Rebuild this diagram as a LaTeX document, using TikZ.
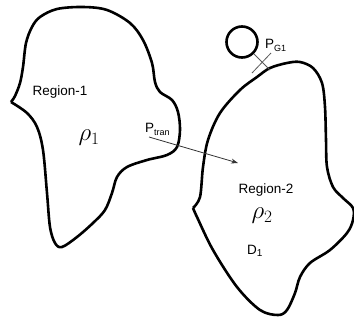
\documentclass[tikz,border=0pt]{standalone}
\usepackage{fontspec}
\setmainfont{Liberation Sans}
\usetikzlibrary{arrows.meta}
\begin{document}
\begin{tikzpicture}[x=1pt,y=-1pt,
  outline/.style={line width=2.6pt, line join=round},
  thin/.style={draw=black!65, line width=0.8pt},
  lbl/.style={inner sep=0pt, font=\fontsize{13.5}{15}\selectfont},
  rholbl/.style={inner sep=0pt, font=\fontsize{25}{28}\selectfont}]
\useasboundingbox (0,0) rectangle (354,322);
% Region 1
\draw[outline] plot[smooth, tension=0.55] coordinates {
 (11,102) (15,96) (20,83) (23,67) (26,43) (32,27) (40,17) (57,9) (83,7)
 (107,10) (130,23) (143,40) (152,63) (155,82) (160,92) (172,100) (178,112)
 (180,130) (177,147) (167,155) (147,160) (127,167) (117,177) (112,193)
 (105,210) (93,223) (77,237) (62,247) (55,243) (50,227) (47,193) (43,150)
 (37,127) (27,113) (11,102)};
% Region 2
\draw[outline] plot[smooth, tension=0.55] coordinates {
 (193,208) (200,197) (203,167) (208,140) (220,113) (240,90) (257,77)
 (270,68) (287,63) (300,62) (313,68) (322,83) (325,107) (326,140) (327,167)
 (333,187) (343,198) (353,208) (353,220) (347,233) (330,250) (310,263)
 (300,277) (295,293) (287,310) (278,315) (260,310) (237,287) (213,250)
 (197,217) (193,208)};
% generator
\node[circle, draw, line width=2.6pt, minimum size=31pt, inner sep=0pt] (gen) at (242,42) {};
\coordinate (gtap) at (270,70);
\draw[thin] (gen) -- (gtap);
\coordinate (xa) at (252,73);
\coordinate (xb) at (271,53);
\draw[thin] (xa) -- (xb);
\node[lbl, anchor=base west] (pg) at (265,48) {P\raisebox{-0.28em}{\fontsize{9}{9}\selectfont G1}};
% transfer arrow
\coordinate (ta) at (149,137);
\coordinate (tb) at (238,163);
\draw[thin, draw=black!80, -{Stealth[length=7pt, width=5pt]}] (ta) -- (tb);
\node[lbl, anchor=base west] (pt) at (145,132) {P\raisebox{-0.28em}{\fontsize{9}{9}\selectfont tran}};
% labels
\node[lbl] (r1) at (60,92) {Region-1};
\node[rholbl] (rho1) at (89,138) {$\rho_1$};
\node[lbl] (r2) at (266,190) {Region-2};
\node[rholbl] (rho2) at (262,216) {$\rho_2$};
\node[lbl, anchor=base west] (d1) at (247,254) {D\raisebox{-0.2em}{\fontsize{10}{10}\selectfont 1}};
\end{tikzpicture}
\end{document}
